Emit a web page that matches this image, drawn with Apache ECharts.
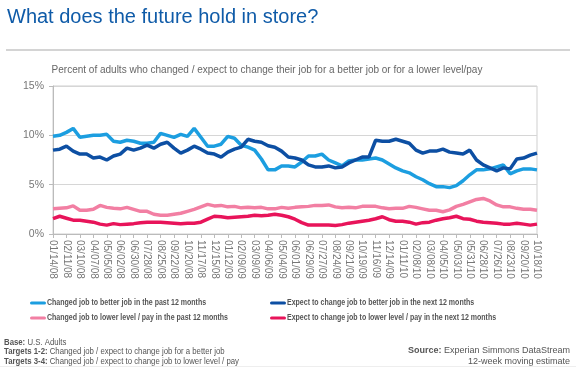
<!DOCTYPE html>
<html>
<head>
<meta charset="utf-8">
<script src="https://cdn.jsdelivr.net/npm/echarts@6/dist/echarts.min.js"></script>
<style>
html,body{margin:0;padding:0;background:#fff;}
#chart{width:576px;height:367px;}
</style>
</head>
<body>
<div id="chart"></div>
<script>
// Survey dates (every 2 weeks), axis label shown every 4 weeks
const categories = [
'01/14/08','01/28/08','02/11/08','02/25/08','03/10/08','03/24/08','04/07/08','04/21/08','05/05/08','05/19/08',
'06/02/08','06/16/08','06/30/08','07/14/08','07/28/08','08/11/08','08/25/08','09/08/08','09/22/08','10/06/08',
'10/20/08','11/03/08','11/17/08','12/01/08','12/15/08','12/29/08','01/12/09','01/26/09','02/09/09','02/23/09',
'03/09/09','03/23/09','04/06/09','04/20/09','05/04/09','05/18/09','06/01/09','06/15/09','06/29/09','07/13/09',
'07/27/09','08/10/09','08/24/09','09/07/09','09/21/09','10/05/09','10/19/09','11/02/09','11/16/09','11/30/09',
'12/14/09','12/28/09','01/11/10','01/25/10','02/08/10','02/22/10','03/08/10','03/22/10','04/05/10','04/19/10',
'05/03/10','05/17/10','05/31/10','06/14/10','06/28/10','07/12/10','07/26/10','08/09/10','08/23/10','09/06/10',
'09/20/10','10/04/10','10/18/10'
];

const seriesNames = [
'Changed job to better job in the past 12 months',
'Expect to change job to better job in the next 12 months',
'Changed job to lower level / pay in the past 12 months',
'Expect to change job to lower level / pay in the next 12 months'
];

const betterPast = [
9.9,10.0,10.3,10.7,9.8,9.9,10.0,10.0,10.1,9.4,
9.3,9.5,9.4,9.2,9.2,9.3,10.2,10.0,9.8,10.1,
9.9,10.7,9.8,8.9,8.9,9.1,9.9,9.7,9.0,8.8,
8.5,7.6,6.5,6.5,6.9,6.9,6.8,7.3,7.9,7.9,
8.1,7.5,7.2,6.9,7.4,7.5,7.5,7.6,7.7,7.5,
7.1,6.7,6.4,6.2,5.8,5.5,5.1,4.8,4.8,4.7,
4.9,5.4,6.0,6.5,6.5,6.6,6.8,7.0,6.1,6.4,
6.6,6.6,6.5
];

const betterNext = [
8.5,8.6,8.9,8.4,8.1,8.1,7.7,7.8,7.5,7.9,
8.1,8.7,8.5,8.7,9.0,8.7,9.1,9.3,8.7,8.2,
8.5,8.9,8.6,8.2,8.1,7.8,8.3,8.6,8.8,9.6,
9.4,9.3,8.95,8.8,8.4,7.8,7.7,7.5,7.0,6.8,
6.8,6.9,6.7,6.8,7.2,7.5,7.8,7.8,9.5,9.4,
9.4,9.6,9.4,9.2,8.5,8.2,8.4,8.4,8.6,8.3,
8.2,8.1,8.5,7.5,7.0,6.7,6.4,6.7,6.6,7.6,
7.7,8.0,8.2
];

const lowerPast = [
2.55,2.6,2.65,2.85,2.4,2.4,2.5,2.9,2.7,2.6,
2.55,2.7,2.5,2.3,2.3,2.0,1.9,1.9,2.0,2.1,
2.3,2.5,2.75,3.0,2.85,2.9,2.75,2.8,2.65,2.7,
2.65,2.7,2.55,2.55,2.7,2.6,2.7,2.75,2.8,2.9,
2.9,2.95,2.75,2.65,2.7,2.65,2.8,2.8,2.8,2.65,
2.55,2.6,2.6,2.8,2.7,2.55,2.4,2.4,2.25,2.45,
2.8,3.0,3.25,3.5,3.6,3.35,2.95,2.75,2.75,2.6,
2.5,2.5,2.4
];

const lowerNext = [
1.55,1.8,1.6,1.4,1.4,1.3,1.2,1.0,0.9,1.05,
0.95,1.0,1.05,1.15,1.2,1.2,1.2,1.15,1.1,1.05,
1.1,1.1,1.2,1.5,1.8,1.75,1.65,1.7,1.75,1.8,
1.9,1.85,1.9,2.0,1.9,1.75,1.5,1.15,0.9,0.9,
0.9,0.9,0.87,0.95,1.1,1.2,1.3,1.4,1.55,1.75,
1.45,1.3,1.3,1.2,1.0,1.15,1.2,1.4,1.55,1.65,
1.8,1.55,1.5,1.3,1.2,1.15,1.1,1.0,1.0,1.1,
1.0,0.9,1.0
];

const colors = ['#1c9ee0', '#0d4fa3', '#f27fa3', '#e8145a'];
const FONT = '"Liberation Sans", Arial, sans-serif';

const chart = echarts.init(document.getElementById('chart'), null, {renderer: 'canvas'});

function mkSeries(name, data, color) {
  return {
    name: name, type: 'line', data: data, showSymbol: false, symbol: 'none',
    lineStyle: {color: color, width: 3.5}, itemStyle: {color: color},
    emphasis: {disabled: true}, animation: false, z: 3
  };
}

// legend drawn as graphic items (narrow text like the reference)
const legendPos = [[30, 303], [270, 303], [30, 318], [270, 318]];
const legendGraphics = [];
seriesNames.forEach(function (name, i) {
  const p = legendPos[i];
  legendGraphics.push({type: 'rect', silent: true, shape: {x: p[0], y: p[1] - 1.5, width: 16, height: 3, r: 1.5},
    style: {fill: colors[i]}});
  legendGraphics.push({type: 'text', silent: true, x: p[0] + 17, y: p[1], scaleX: 0.78,
    style: {text: name, verticalAlign: 'middle', font: 'bold 9px ' + FONT, fill: '#555'}});
});

const richB = {b: {fontWeight: 'bold', fontSize: 9.5, fontFamily: FONT, fill: '#555'}};
function footLeft(text, y) {
  return {type: 'text', x: 4, y: y, scaleX: 0.82, silent: true,
    style: {text: text, verticalAlign: 'middle', font: '9.5px ' + FONT, fill: '#555', rich: richB}};
}

chart.setOption({
  animation: false,
  backgroundColor: '#fff',
  color: colors,
  title: [{
    text: 'What does the future hold in store?',
    left: 2, top: 2,
    textStyle: {fontFamily: FONT, fontSize: 20, fontWeight: 'normal', color: '#0f5ba8'}
  }],
  grid: {left: 53, right: 39, top: 86, bottom: 133, show: true, borderColor: '#cfcfcf', borderWidth: 1},
  xAxis: {
    type: 'category', data: categories, boundaryGap: false,
    axisLine: {lineStyle: {color: '#bbb'}},
    axisTick: {show: true, interval: 1, length: 4, lineStyle: {color: '#bbb'}},
    axisLabel: {interval: 1, rotate: -90, margin: 6, fontFamily: FONT, fontSize: 10, color: '#777'},
    splitLine: {show: false}
  },
  yAxis: {
    type: 'value', min: 0, max: 15, interval: 5,
    axisLine: {show: true, lineStyle: {color: '#bbb'}},
    axisTick: {show: true, length: 4, lineStyle: {color: '#bbb'}},
    axisLabel: {formatter: '{value}%', margin: 9, fontFamily: FONT, fontSize: 10.5, color: '#777'},
    splitLine: {lineStyle: {color: '#d6d6d6'}}
  },
  series: [
    mkSeries(seriesNames[0], betterPast, colors[0]),
    mkSeries(seriesNames[1], betterNext, colors[1]),
    mkSeries(seriesNames[2], lowerPast, colors[2]),
    mkSeries(seriesNames[3], lowerNext, colors[3])
  ],
  graphic: [
    {type: 'line', shape: {x1: 6, y1: 50, x2: 570, y2: 50}, style: {stroke: '#d4d4d4', lineWidth: 2}, silent: true},
    {type: 'text', x: 267, y: 70, silent: true,
      style: {text: 'Percent of adults who changed / expect to change their job for a better job or for a lower level/pay',
        align: 'center', verticalAlign: 'middle', font: '10px ' + FONT, fill: '#666'}},
    footLeft('{b|Base:} U.S. Adults', 342),
    footLeft('{b|Targets 1-2:} Changed job / expect to change job for a better job', 351.5),
    footLeft('{b|Targets 3-4:} Changed job / expect to change job to lower level / pay', 361),
    {type: 'text', x: 570, y: 351, silent: true,
      style: {text: '{b|Source:} Experian Simmons DataStream', align: 'right', verticalAlign: 'middle', font: '9px ' + FONT, fill: '#555',
        rich: {b: {fontWeight: 'bold', fontSize: 9, fontFamily: FONT, fill: '#555'}}}},
    {type: 'text', x: 570, y: 361.5, silent: true,
      style: {text: '12-week moving estimate', align: 'right', verticalAlign: 'middle', font: '9px ' + FONT, fill: '#555'}},
    {type: 'rect', silent: true, shape: {x: 0, y: 366, width: 576, height: 1}, style: {fill: '#eeeeee'}}
  ].concat(legendGraphics)
});
</script>
</body>
</html>
